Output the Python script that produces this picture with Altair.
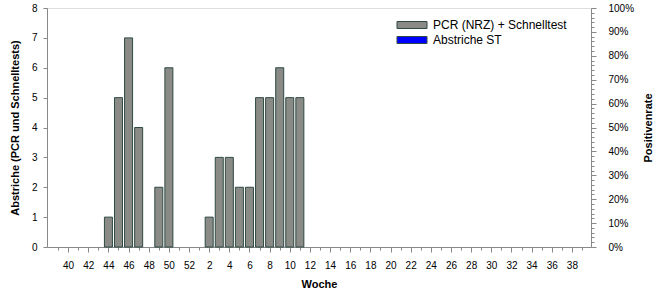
import altair as alt
import pandas as pd

# Week order on the x axis (calendar week 39 shown only as an extra tick)
weeks = [39] + list(range(40, 53)) + list(range(1, 40))

# Swab counts (PCR (NRZ) + Schnelltest) per week
pcr_weeks = [44, 45, 46, 47, 49, 50, 2, 3, 4, 5, 6, 7, 8, 9, 10, 11]
pcr_counts = [1, 5, 7, 4, 2, 6, 1, 3, 3, 2, 2, 5, 5, 6, 5, 5]

series_names = ["PCR (NRZ) + Schnelltest", "Abstriche ST"]
series_colors = ["#8a8a86", "#0000ff"]

left_ticks = list(range(0, 9))
right_ticks = [i / 50 for i in range(0, 51)]

idx_of = {w: i - 1 for i, w in enumerate(weeks)}

df = pd.DataFrame({
    "idx": [idx_of[w] for w in pcr_weeks],
    "week": pcr_weeks,
    "count": pcr_counts,
    "series": [series_names[0]] * len(pcr_weeks),
})

FONT = "Liberation Sans"

x_axis = alt.Axis(
    title="Woche",
    values=list(range(-1, 52)),
    labelExpr="datum.value >= 0 && datum.value % 2 == 0 ? toString(datum.value < 13 ? datum.value + 40 : datum.value - 12) : ''",
    labelOverlap=False,
    labelFlush=False,
    tickSize={"condition": {"test": "datum.value >= 0 && datum.value % 2 == 0", "value": 5}, "value": 3},
    labelPadding=8,
    titlePadding=8,
    titleAnchor="middle",
    grid=False,
)
x_scale = alt.Scale(domain=[-1.6, 51.4], nice=False, zero=False)

bars = alt.Chart(df).mark_bar(size=8, stroke="#2f4a44", strokeWidth=1).encode(
    x=alt.X("idx:Q", scale=x_scale, axis=x_axis),
    y=alt.Y(
        "count:Q",
        scale=alt.Scale(domain=[0, 8], nice=False),
        axis=alt.Axis(
            title="Abstriche (PCR und Schnelltests)",
            values=left_ticks,
            tickSize=4,
            labelPadding=6,
            titlePadding=11,
            grid=False,
        ),
    ),
    color=alt.Color(
        "series:N",
        scale=alt.Scale(domain=series_names, range=series_colors),
        legend=alt.Legend(
            title=None,
            orient="none",
            legendX=359,
            legendY=11,
            symbolType="M-3,-0.7H3V0.7H-3Z",
            symbolSize=100,
            symbolStrokeColor="#2f4a44",
            symbolStrokeWidth=1,
            symbolOpacity=1,
            labelFont=FONT,
            labelFontSize=12,
            labelColor="#000",
            labelOffset=15,
            rowPadding=3,
        ),
    ),
)

rate_df = pd.DataFrame({"idx": [0], "rate": [0.0]})
right = alt.Chart(rate_df).mark_point(opacity=0).encode(
    x=alt.X("idx:Q", scale=x_scale, axis=x_axis),
    y=alt.Y(
        "rate:Q",
        scale=alt.Scale(domain=[0, 1], nice=False),
        axis=alt.Axis(
            orient="right",
            title="Positivenrate",
            titleAngle=270,
            values=right_ticks,
            format=".0%",
            labelExpr="round(datum.value * 100) % 10 == 0 ? datum.label : ''",
            labelOverlap=False,
            tickSize={"condition": {"test": "round(datum.value * 100) % 10 == 0", "value": 5}, "value": 3},
            labelPadding=12,
            titlePadding=20,
            grid=False,
        ),
    ),
)

chart = alt.layer(bars, right).resolve_scale(y="independent").properties(
    width=544,
    height=239,
    autosize=alt.AutoSizeParams(type="none"),
    padding={"left": 47, "top": 8, "right": 75, "bottom": 53},
).configure_view(
    stroke="#000", strokeWidth=1
).configure_axis(
    labelFont=FONT,
    labelFontSize=12,
    labelColor="#000",
    titleFont=FONT,
    titleFontSize=12,
    titleFontWeight="bold",
    titleColor="#000",
    domainColor="#000",
    tickColor="#000",
).configure(background="white")

chart.save("out.html", embed_options={"renderer": "svg", "actions": False})
